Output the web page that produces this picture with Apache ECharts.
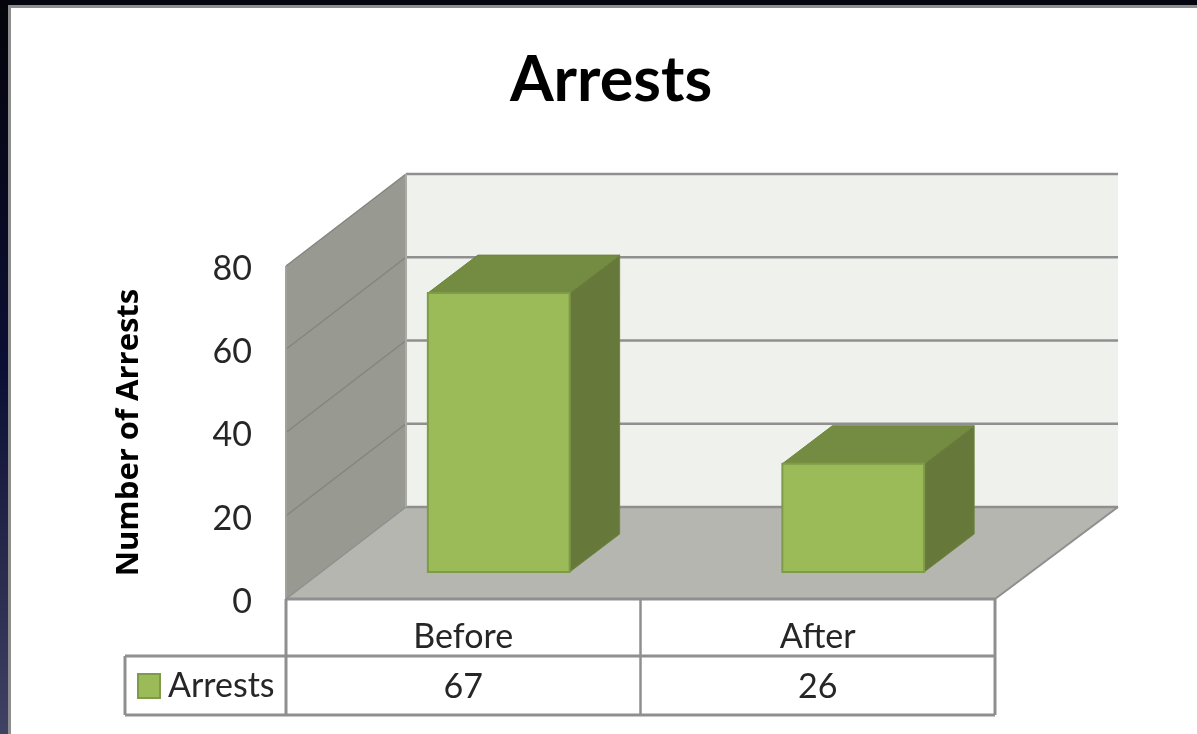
<!DOCTYPE html>
<html><head><meta charset="utf-8">
<style>html,body{margin:0;padding:0;background:#fff}#c{width:1197px;height:734px}</style>
<script src="https://cdn.jsdelivr.net/npm/echarts@6/dist/echarts.min.js"></script>
</head><body><div id="c"></div>
<script>
const titleText = 'Arrests';
const yAxisName = 'Number of Arrests';
const categories = ['Before', 'After'];
const arrests = [67, 26];
const seriesName = 'Arrests';
const yTicks = [0, 20, 40, 60, 80];

const FONT = 'Lato, "Open Sans", sans-serif';
const TEXT = '#262626';
const LINE = '#8f8f8f';
const WALL_D = [120, -92];
const BAR_D = [50, -38];
const BAR_SHIFT = [35.5, -27];
const BAR_W = 0.4;
const ROW1 = 57, ROW2 = 116, LEGEND_LEFT = 125, OVERHANG = 3;

const chart = echarts.init(document.getElementById('c'), null, {renderer: 'canvas'});

function poly(pts, fill, stroke, lw) {
  return {type: 'polygon', shape: {points: pts},
    style: {fill: fill, stroke: stroke || null, lineWidth: lw || 0}};
}
function seg(a, b, lw, col) {
  return {type: 'line', shape: {x1: a[0], y1: a[1], x2: b[0], y2: b[1]},
    style: {stroke: col || LINE, lineWidth: lw, fill: null}};
}

function renderScene(params, api) {
  const cs = params.coordSys;
  const L = cs.x, R = cs.x + cs.width, B = cs.y + cs.height, T = cs.y;
  const dx = WALL_D[0], dy = WALL_D[1];
  const E = R + dx + OVERHANG;
  const ch = [];
  ch.push(poly([[L+dx,T+dy],[E,T+dy],[E,B+dy],[L+dx,B+dy]], '#eff2ec'));
  ch.push(poly([[L,T],[L+dx,T+dy],[L+dx,B+dy],[L,B]], '#989a92'));
  ch.push(poly([[L,B],[L+dx,B+dy],[E,B+dy],[R,B]], '#b4b6af'));
  yTicks.forEach(function (t) {
    const y = api.coord([0, t])[1];
    if (t > 0) ch.push(seg([L,y],[L+dx,y+dy],1.5,'#83857e'));
    ch.push(seg([L+dx,y+dy],[E,y+dy],2.5));
  });
  ch.push(seg([L+dx,T+dy],[L+dx,B+dy],2,'#a9aba4'));
  ch.push(seg([R,B],[E,B+dy],2));
  ch.push(seg([L,B],[L+dx,B+dy],1.5));
  ch.push(seg([L,T],[L,B],2,'#a0a29b'));
  ch.push(seg([L,B],[R,B],3));
  ch.push(seg([L,B],[L,B+ROW2],3));
  ch.push(seg([R,B],[R,B+ROW2],3));
  const mid = (api.coord([0,0])[0] + api.coord([1,0])[0]) / 2;
  ch.push(seg([mid,B],[mid,B+ROW2],2.5));
  ch.push(seg([LEGEND_LEFT,B+ROW1],[R,B+ROW1],3));
  ch.push(seg([LEGEND_LEFT,B+ROW2],[R,B+ROW2],3));
  ch.push(seg([LEGEND_LEFT,B+ROW1],[LEGEND_LEFT,B+ROW2],3));
  return {type: 'group', children: ch};
}

function renderBar(params, api) {
  const base = api.coord([api.value(0), 0]);
  const top = api.coord([api.value(0), api.value(1)]);
  const w = api.size([1, 0])[0] * BAR_W;
  const x0 = base[0] - w/2 + BAR_SHIFT[0], x1 = x0 + w;
  const yb = base[1] + BAR_SHIFT[1], yt = top[1] + BAR_SHIFT[1];
  const dx = BAR_D[0], dy = BAR_D[1];
  return {type: 'group', children: [
    poly([[x1,yb],[x1+dx,yb+dy],[x1+dx,yt+dy],[x1,yt]], '#66783a', '#6f8540', 1),
    poly([[x0,yt],[x1,yt],[x1+dx,yt+dy],[x0+dx,yt+dy]], '#748c41', '#6f8540', 1),
    poly([[x0,yb],[x1,yb],[x1,yt],[x0,yt]], '#9bbb59', '#7f9a48', 2),
    {type: 'text', style: {text: String(api.value(1)), x: base[0], y: base[1] + 88,
      align: 'center', verticalAlign: 'middle', font: '34px ' + FONT, fill: TEXT}}
  ]};
}

chart.setOption({
  animation: false,
  backgroundColor: '#fff',
  graphic: [
    {type: 'rect', z: -10, shape: {x: 0, y: 0, width: 1197, height: 5}, style: {fill: '#05050f'}},
    {type: 'rect', z: -10, shape: {x: 0, y: 0, width: 8, height: 734},
      style: {fill: new echarts.graphic.LinearGradient(0, 0, 0, 1, [
        {offset: 0, color: '#04040a'}, {offset: 0.5, color: '#0c0f35'}, {offset: 1, color: '#3f4262'}])}},
    {type: 'rect', z: -10, shape: {x: 8, y: 5, width: 1189, height: 3}, style: {fill: '#8d8d8d'}},
    {type: 'rect', z: -10, shape: {x: 8, y: 5, width: 3, height: 729}, style: {fill: '#8d8d8d'}}
  ],
  title: {text: titleText, left: 606, top: 44, textAlign: 'center',
    textStyle: {fontFamily: FONT, fontSize: 63, fontWeight: 'bold', color: '#000'}},
  legend: {data: [seriesName], left: 132, top: 664, itemWidth: 22, itemHeight: 24, itemGap: 0,
    icon: 'rect',
    itemStyle: {color: '#9bbb59', borderColor: '#7f9a48', borderWidth: 2},
    textStyle: {fontFamily: FONT, fontSize: 34, color: TEXT, padding: [0, 0, 0, 3]},
    selectedMode: false},
  grid: {left: 286, right: 202, top: 266, bottom: 135},
  xAxis: {type: 'category', data: categories, boundaryGap: true,
    axisLine: {show: false}, axisTick: {show: false}, splitLine: {show: false},
    axisLabel: {fontFamily: FONT, fontSize: 34, color: TEXT, margin: 21}},
  yAxis: {type: 'value', min: 0, max: 80, interval: 20,
    name: yAxisName, nameLocation: 'middle', nameGap: 141, nameRotate: 90,
    nameTextStyle: {fontFamily: '"Open Sans", sans-serif', fontSize: 31, fontWeight: 'bold', color: '#000'},
    axisLine: {show: false}, axisTick: {show: false}, splitLine: {show: false},
    axisLabel: {margin: 34, formatter: '{t|{value}}',
      rich: {t: {fontFamily: FONT, fontSize: 34, color: TEXT, padding: [6, 0, 0, 0]}}}},
  series: [
    {type: 'custom', name: 'scene', silent: true, z: 1, clip: false,
     data: [[0, 0]], encode: {x: 0, y: 1}, renderItem: renderScene},
    {type: 'custom', name: seriesName, z: 2, clip: false,
     itemStyle: {color: '#9bbb59'},
     data: arrests.map(function (v, i) { return [i, v]; }),
     encode: {x: 0, y: 1}, renderItem: renderBar}
  ]
});
</script></body></html>
